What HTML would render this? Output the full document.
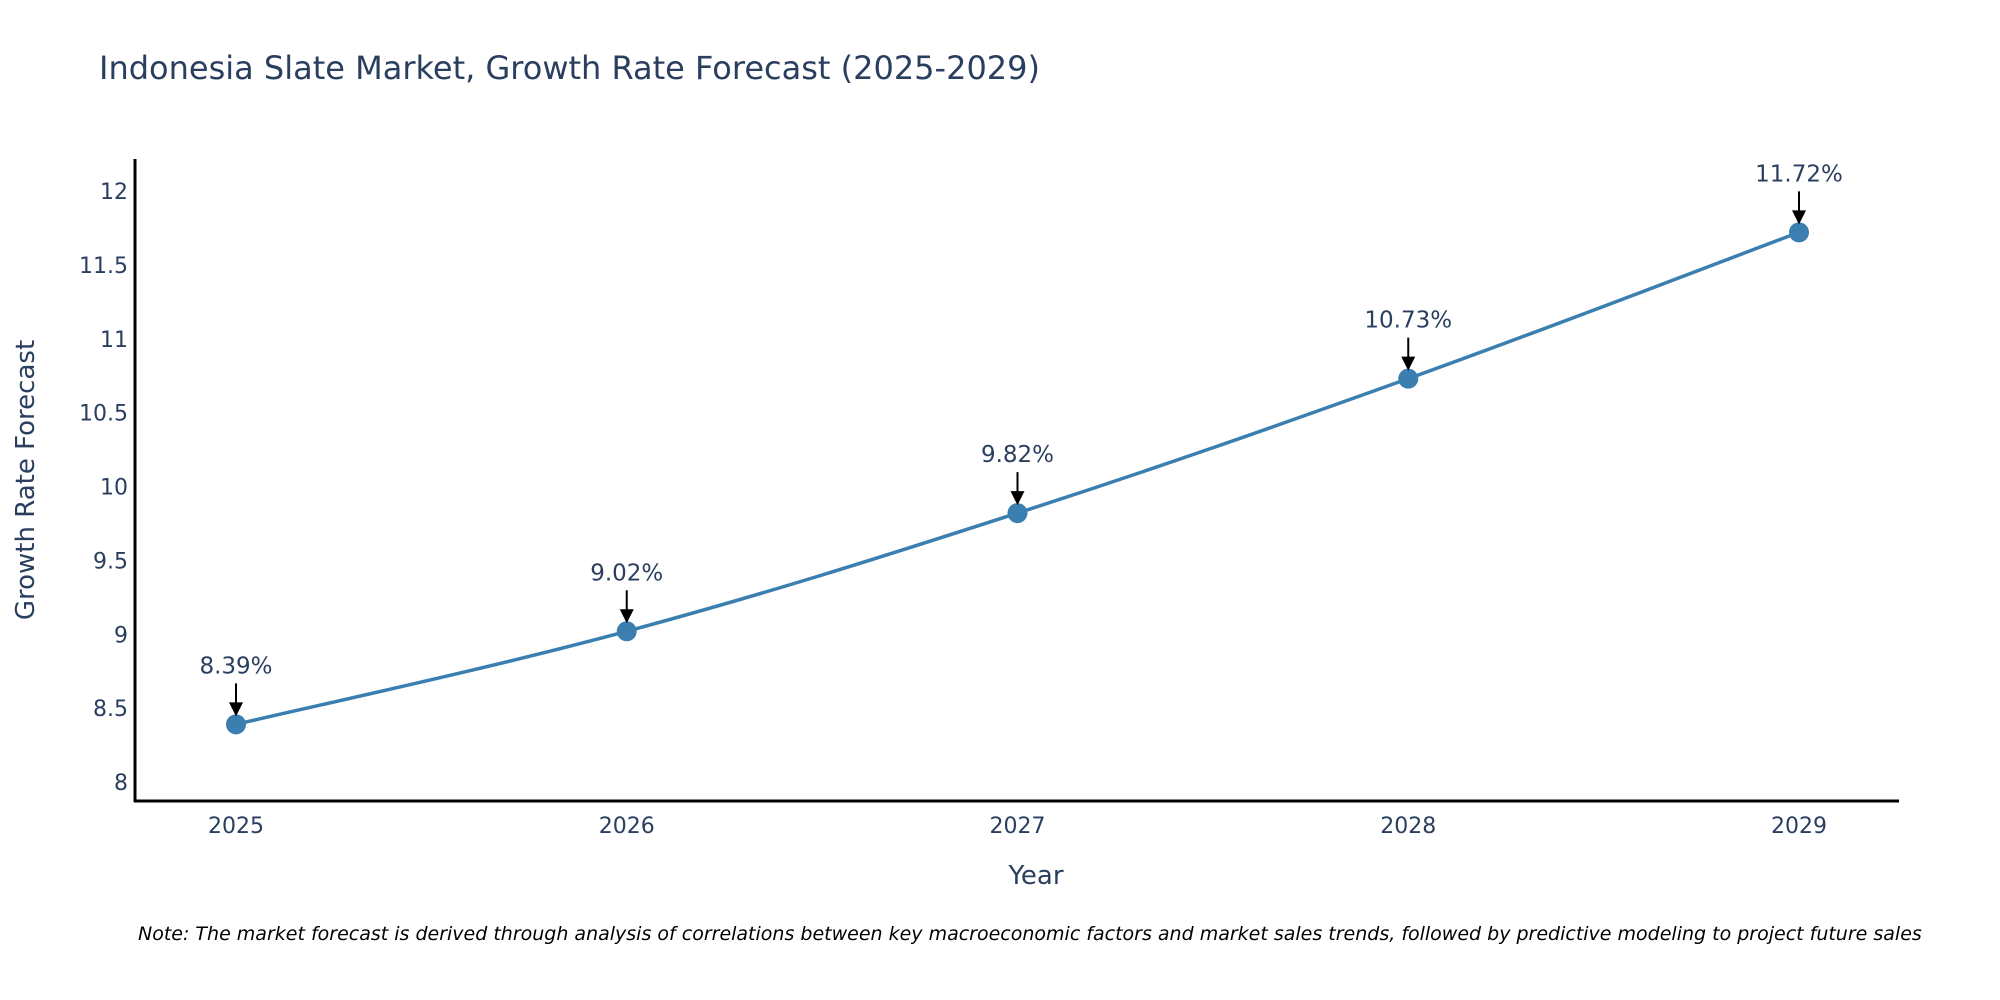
<!DOCTYPE html>
<html><head><meta charset="utf-8">
<style>
html,body{margin:0;padding:0;background:#fff;}
svg{display:block;font-family:"DejaVu Sans","Liberation Sans",sans-serif;}
</style></head>
<body>
<svg id="chart" width="2000" height="1000">
<text x="99" y="79" font-size="32" fill="#2a3f5f">Indonesia Slate Market, Growth Rate Forecast (2025-2029)</text>
<g id="yticks"></g>
<g id="xticks"></g>
<line x1="135" y1="159" x2="135" y2="802" stroke="#000" stroke-width="3"/>
<line x1="134" y1="801" x2="1899" y2="801" stroke="#000" stroke-width="3"/>
<text transform="translate(34,480) rotate(-90)" text-anchor="middle" font-size="26" fill="#2a3f5f">Growth Rate Forecast</text>
<text x="1036" y="884" text-anchor="middle" font-size="26" fill="#2a3f5f">Year</text>
<g id="series"></g>
<text x="138" y="940" font-size="19" font-style="italic" fill="#000">Note: The market forecast is derived through analysis of correlations between key macroeconomic factors and market sales trends, followed by predictive modeling to project future sales</text>
</svg>
<script>
const years = [2025, 2026, 2027, 2028, 2029];
const values = [8.39, 9.02, 9.82, 10.73, 11.72];
const yTicks = [8, 8.5, 9, 9.5, 10, 10.5, 11, 11.5, 12];
const yTickLabels = ["8", "8.5", "9", "9.5", "10", "10.5", "11", "11.5", "12"];

const NS = "http://www.w3.org/2000/svg";
function xScale(yr){ return 236 + (yr - 2025) * (1799 - 236) / 4; }
function yScale(v){ return 782 - (v - 8) * (782 - 191) / 4; }
function mk(tag, attrs, parent){
  const e = document.createElementNS(NS, tag);
  for (const k in attrs) e.setAttribute(k, attrs[k]);
  parent.appendChild(e); return e;
}
const yg = document.getElementById('yticks');
yTicks.forEach((t,i)=>{
  const e = mk('text',{x:128,y:yScale(t)+8,'text-anchor':'end','font-size':22,fill:'#2a3f5f'},yg);
  
  
  e.textContent = yTickLabels[i];
});
const xg = document.getElementById('xticks');
years.forEach(yr=>{
  const e = mk('text',{x:xScale(yr),y:833,'text-anchor':'middle','font-size':22,fill:'#2a3f5f'},xg);
  
  
  e.textContent = String(yr);
});
const sg = document.getElementById('series');
const pts = years.map((yr,i)=>[xScale(yr), yScale(values[i])]);
let d = `M${pts[0][0]},${pts[0][1]}`;
const s = 0.18;
for (let i=0;i<pts.length-1;i++){
  const p0 = pts[Math.max(i-1,0)], p1 = pts[i], p2 = pts[i+1], p3 = pts[Math.min(i+2,pts.length-1)];
  const c1 = [p1[0]+(p2[0]-p0[0])*s, p1[1]+(p2[1]-p0[1])*s];
  const c2 = [p2[0]-(p3[0]-p1[0])*s, p2[1]-(p3[1]-p1[1])*s];
  d += ` C${c1[0]},${c1[1]} ${c2[0]},${c2[1]} ${p2[0]},${p2[1]}`;
}
const path = mk('path',{d:d,fill:'none',stroke:'#3b7fb1','stroke-width':3.5},sg);


pts.forEach((p,i)=>{
  const c = mk('circle',{cx:p[0],cy:p[1],r:10,fill:'#3b7fb1'},sg);
  
  
  const l = mk('line',{x1:p[0],y1:p[1]-41,x2:p[0],y2:p[1]-20,stroke:'#000','stroke-width':2},sg);
  
  
  const a = mk('polygon',{points:`${p[0]-7},${p[1]-22} ${p[0]+7},${p[1]-22} ${p[0]},${p[1]-8}`,fill:'#000'},sg);
  
  
  const t = mk('text',{x:p[0],y:p[1]-51,'text-anchor':'middle','font-size':23,fill:'#2a3f5f'},sg);
  
  
  t.textContent = values[i].toFixed(2) + '%';
});
</script>
</body></html>
